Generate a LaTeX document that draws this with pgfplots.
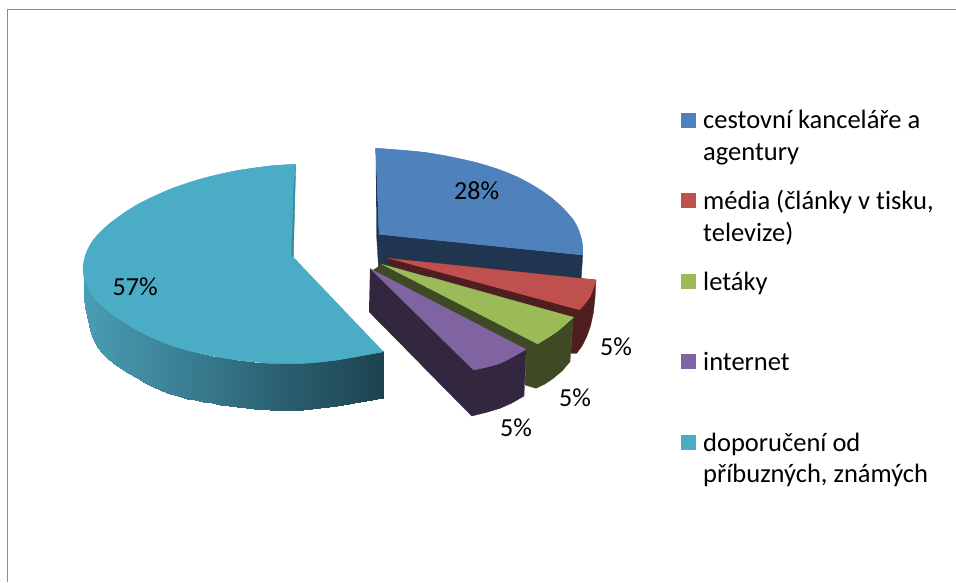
\documentclass[border=0pt]{standalone}
\usepackage{fontspec}
\setmainfont[Ligatures=NoCommon]{Carlito}
\usepackage{pgfplots}
\pgfplotsset{compat=1.18}
\definecolor{cblue}{HTML}{4F81BD}
\definecolor{cred}{HTML}{C0504D}
\definecolor{cgreen}{HTML}{9BBB59}
\definecolor{cpurple}{HTML}{8064A2}
\definecolor{cteal}{HTML}{4BACC6}
\definecolor{dblue}{HTML}{1F3550}
\definecolor{dred}{HTML}{4E1F1E}
\definecolor{dgreen}{HTML}{3F4A24}
\definecolor{dpurple}{HTML}{33263F}
\definecolor{frame}{HTML}{8C8C8C}
% outer wall of the large slice: upper row, then lower row
\pgfplotstableread{
x y
84 272
85 276
87 282
90 289
93 295
97 300
102 305
107 310
113 314
120 319
128 324
137 329
145 333
153 337
162 341
170 344
178 347
187 350
195 352
203 354
212 355.5
220 357
237 359.5
254 361.5
270 362.5
287 362.8
303 362.3
320 361
337 359
360 355
383.3 351
84 298
85 308
87 316
90 330
93 339
97 347
102 353
107 358
113 363
120 367.5
128 373
137 378
145 383
153 387
162 390.5
170 393.5
178 396
187 398.5
195 400
203 401.5
212 403
220 404.5
237 406.5
254 408.5
270 409.7
287 410
303 409.5
320 408
337 406
360 402
383.3 397.5
}\tealside
\tikzset{
lab/.style={anchor=base west,inner sep=0pt,font=\fontsize{26.5}{26.5}\selectfont},
pct/.style={anchor=base west,inner sep=0pt,font=\fontsize{26}{26}\selectfont}
}
\pgfplotsset{
flat/.style={fill=#1,draw=#1,line width=0.3pt},
arc/.style={fill=#1,draw=#1,line width=0.3pt,smooth,tension=0.6}
}
\begin{document}
\begin{tikzpicture}
\begin{axis}[
	width=956pt,height=582pt,scale only axis,
	xmin=0,xmax=956,ymin=0,ymax=582,y dir=reverse,
	axis lines=none,
	colormap={tealside}{rgb255=(74,157,180) rgb255=(58,127,147) rgb255=(42,95,112) rgb255=(29,67,80)}]
% page and frame
\addplot[fill=white,draw=none] coordinates {(0,0) (956,0) (956,582) (0,582)};
\addplot[frame,line width=1.8pt] coordinates {(7.5,582) (7.5,9.5) (956,9.5)};
% large slice
\addplot[surf,shader=interp,mesh/cols=31,point meta=x] table {\tealside};
\addplot[arc=cteal] coordinates {(295.7,164.3) (270,166) (236.7,170.7) (203.3,178.3) (170,189.3) (136.7,205) (110,223.3) (93.3,240) (85,256.7) (83.3,273.3) (90,291.7) (106.7,310) (136.7,330) (170,345) (203.3,354) (236.7,360) (270,363.3)};
\addplot[arc=cteal] coordinates {(270,363.3) (303.3,363.3) (336.7,360) (383.3,351.7)};
\addplot[flat=cteal] coordinates {(295.7,164.3) (270,166) (236.7,170.7) (203.3,178.3) (170,189.3) (136.7,205) (110,223.3) (93.3,240) (85,256.7) (83.3,273.3) (90,291.7) (106.7,310) (136.7,330) (170,345) (203.3,354) (236.7,360) (270,363.3) (303.3,363.3) (336.7,360) (383.3,351.7) (293.3,257.3)};
\addplot[flat=cteal!80!black] coordinates {(295.7,164.3) (293.3,257.3) (291.5,255) (294,183)};
% blue slice
\addplot[flat=dblue] coordinates {(375.7,148.3) (379,234.3) (582.7,255) (581,282) (379,275) (376.5,234)};
\addplot[arc=cblue] coordinates {(375.7,148.3) (426.7,152.7) (476.7,162.7) (516.7,176.7) (550,196.7) (573.3,220) (581.7,240) (582.7,255)};
\addplot[flat=cblue] coordinates {(375.7,148.3) (426.7,152.7) (476.7,162.7) (516.7,176.7) (550,196.7) (573.3,220) (581.7,240) (582.7,255) (379,234.3)};
% red slice
\addplot[flat=dred] coordinates {(388.3,258.3) (596,280) (595,298) (593.3,313.3) (590.5,326) (586.7,336.7) (582,346) (576.7,353.3) (570.7,353.3) (573.3,317) (388.3,265)};
\addplot[arc=cred] coordinates {(596,280) (590,296.7) (579.3,310)};
\addplot[flat=cred] coordinates {(388.3,258.3) (596,280) (590,296.7) (579.3,310)};
% green slice
\addplot[flat=dgreen] coordinates {(381.7,264.3) (573.3,317.3) (570,361.7) (562,371) (553.3,378.3) (545,384) (536,388.3) (525,385) (526,349.3) (370,272)};
\addplot[arc=cgreen] coordinates {(573.3,317.3) (556.7,331.7) (537.3,344)};
\addplot[flat=cgreen] coordinates {(381.7,264.3) (573.3,317.3) (556.7,331.7) (537.3,344)};
% purple slice
\addplot[flat=dpurple] coordinates {(370,268.7) (526,349.3) (524,396) (512,403) (500,408.3) (486,412.5) (471.7,416) (369,311.7)};
\addplot[arc=cpurple] coordinates {(526,349.3) (500,363.3) (473.3,370)};
\addplot[flat=cpurple] coordinates {(370,268.7) (526,349.3) (500,363.3) (473.3,370)};
% legend keys
\addplot[fill=cblue,draw=none] coordinates {(681,112.7) (696,112.7) (696,128) (681,128)};
\addplot[fill=cred,draw=none] coordinates {(681,192.7) (696,192.7) (696,207.7) (681,207.7)};
\addplot[fill=cgreen,draw=none] coordinates {(681,274) (696,274) (696,289) (681,289)};
\addplot[fill=cpurple,draw=none] coordinates {(681,354) (696,354) (696,369) (681,369)};
\addplot[fill=cteal,draw=none] coordinates {(681,435) (696,435) (696,450) (681,450)};
\node[lab] at (axis cs:703,128.5) {cestovní kanceláře a};
\node[lab] at (axis cs:703,160.5) {agentury};
\node[lab] at (axis cs:703,209.5) {média (články v tisku,};
\node[lab] at (axis cs:703,241.5) {televize)};
\node[lab] at (axis cs:703,290) {letáky};
\node[lab] at (axis cs:703,370) {internet};
\node[lab] at (axis cs:703,451) {doporučení od};
\node[lab] at (axis cs:703,482.5) {příbuzných, známých};
% percentages
\node[pct] at (axis cs:454,199) {28\%};
\node[pct] at (axis cs:600,355) {5\%};
\node[pct] at (axis cs:559,406.7) {5\%};
\node[pct] at (axis cs:500,436.7) {5\%};
\node[pct] at (axis cs:112.5,295) {57\%};
\end{axis}
\end{tikzpicture}
\end{document}
